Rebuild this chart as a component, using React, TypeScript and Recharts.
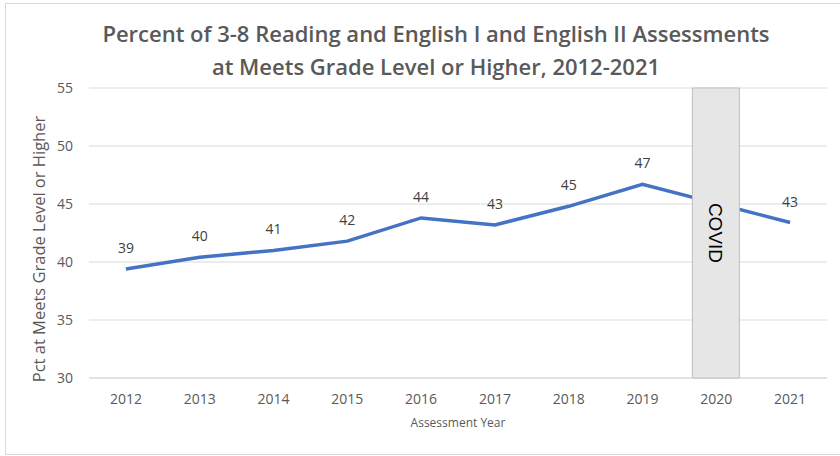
import { Bar, CartesianGrid, ComposedChart, LabelList, Line, XAxis, YAxis } from "recharts";

const years = ["2012", "2013", "2014", "2015", "2016", "2017", "2018", "2019", "2020", "2021"];
// 2020 had no assessment; the line runs straight from 2019 to 2021
const pctMeets = [39.4, 40.4, 41.0, 41.8, 43.8, 43.2, 44.8, 46.7, null, 43.4];
const covidBand = [null, null, null, null, null, null, null, null, 55, null];
const yTicks = [30, 35, 40, 45, 50, 55];

const data = years.map((year, i) => ({
  year,
  pct: pctMeets[i],
  covid: covidBand[i],
}));

const gray = "#595959";
const font = "'Open Sans', sans-serif";
const chartMargin = { top: 88, right: 13, bottom: 23, left: 0 };

function CovidLabel(props: any) {
  const { x, y, width, height } = props;
  const cx = x + width / 2;
  const cy = y + height / 2;
  return (
    <text
      x={cx}
      y={cy}
      transform={`rotate(90, ${cx}, ${cy})`}
      textAnchor="middle"
      dominantBaseline="central"
      fontFamily="'Liberation Sans', Arial, sans-serif"
      fontSize={19}
      fill="#000"
    >
      COVID
    </text>
  );
}

function YTitle(props: any) {
  const { viewBox } = props;
  const cx = viewBox.x + 38;
  const cy = viewBox.y + viewBox.height / 2 + 16;
  return (
    <text
      x={cx}
      y={cy}
      transform={`rotate(-90, ${cx}, ${cy})`}
      textAnchor="middle"
      dominantBaseline="central"
      fontFamily={font}
      fontSize={16.5}
      fill={gray}
    >
      Pct at Meets Grade Level or Higher
    </text>
  );
}

export default function App() {
  return (
    <div style={{ position: "absolute", left: 0, top: 0, width: 840, height: 456, background: "#fff", overflow: "hidden" }}>
      <div
        style={{
          position: "absolute",
          left: 5,
          top: 3,
          width: 840,
          height: 450,
          border: "1px solid #d9d9d9",
        }}
      />
      <div
        style={{
          position: "absolute",
          left: 0,
          top: 17,
          width: 872,
          textAlign: "center",
          fontFamily: font,
          fontWeight: 600,
          fontSize: 22,
          lineHeight: "33px",
          color: gray,
        }}
      >
        Percent of 3-8 Reading and English I and English II Assessments
        <br />
        at Meets Grade Level or Higher, 2012-2021
      </div>
      <div style={{ position: "absolute", left: 0, top: 0 }}>
        <ComposedChart width={840} height={456} data={data} margin={chartMargin}>
          <CartesianGrid vertical={false} stroke="#d9d9d9" />
          <XAxis
            dataKey="year"
            height={55}
            tickSize={0}
            tickMargin={16}
            axisLine={{ stroke: "#d9d9d9" }}
            tickLine={false}
            tick={{ fill: gray, fontSize: 14, fontFamily: font }}
            label={{
              value: "Assessment Year",
              position: "insideBottom",
              offset: 6,
              fill: gray,
              fontSize: 12,
              fontFamily: font,
            }}
          />
          <YAxis
            domain={[30, 55]}
            ticks={yTicks}
            width={89}
            tickSize={0}
            tickMargin={16}
            axisLine={false}
            tickLine={false}
            tick={{ fill: gray, fontSize: 14, fontFamily: font }}
            label={<YTitle />}
          />
          {/* invisible bar keeps the band scale identical to the overlay chart */}
          <Bar dataKey="covid" barSize={47} fill="none" isAnimationActive={false} />
          <Line
            dataKey="pct"
            type="linear"
            stroke="#4472C4"
            strokeWidth={3.5}
            dot={false}
            activeDot={false}
            connectNulls
            isAnimationActive={false}
          >
            <LabelList
              dataKey="pct"
              position="top"
              offset={16}
              formatter={(v: any) => (v == null ? "" : Math.round(v))}
              fill="#404040"
              fontSize={14}
              fontFamily={font}
            />
          </Line>
        </ComposedChart>
      </div>
      {/* COVID band drawn in an overlay so it sits on top of the line */}
      <div style={{ position: "absolute", left: 0, top: 0 }}>
        <ComposedChart width={840} height={456} data={data} margin={chartMargin}>
          <XAxis dataKey="year" height={55} tick={false} tickLine={false} axisLine={false} />
          <YAxis domain={[30, 55]} ticks={yTicks} width={89} tick={false} tickLine={false} axisLine={false} />
          <Bar
            dataKey="covid"
            barSize={47}
            fill="#e7e6e6"
            stroke="#bfbfbf"
            strokeWidth={1}
            isAnimationActive={false}
            label={<CovidLabel />}
          />
        </ComposedChart>
      </div>
    </div>
  );
}
